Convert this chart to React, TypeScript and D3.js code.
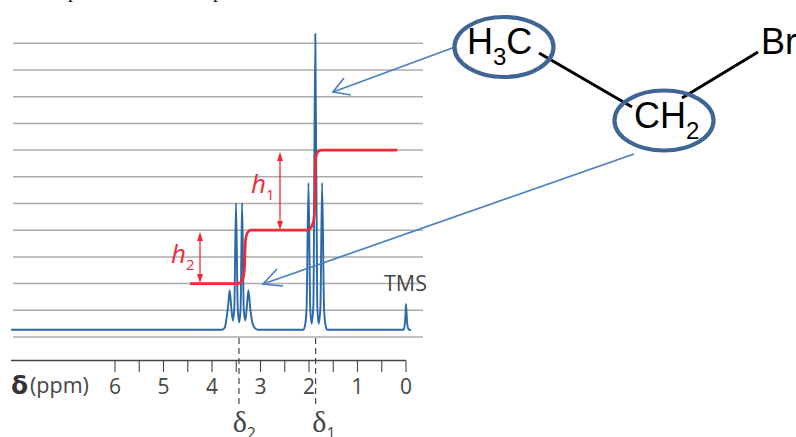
import React from "react";
import { curveMonotoneX, line, range, scaleLinear } from "d3";

////
// spectrum: [ppm] and [grid units]
const spectrumPpm = [
  8.14, 3.8, 3.74, 3.7, 3.66, 3.635, 3.6, 3.57, 3.54, 3.505, 3.47, 3.44, 3.41, 3.38, 3.345, 3.315, 3.285,
  3.25, 3.21, 3.17, 3.12, 3.05, 2.12, 2.08, 2.05, 2.01, 1.975, 1.945, 1.91, 1.87, 1.83, 1.8, 1.765, 1.73,
  1.69, 1.66, 1.62, 0.05, 0.03, 0.01, 0, -0.02, -0.05, -0.1,
];
const spectrumValue = [
  0.27, 0.27, 0.34, 0.7, 1.3, 1.75, 1.05, 0.62, 1.1, 5.02, 1.1, 0.55, 1.1, 5.02, 1.05, 0.62, 1.05,
  1.75, 1.05, 0.55, 0.34, 0.27, 0.27, 0.45, 1.1, 5.77, 1.1, 0.5, 1.2, 11.35, 1.2, 0.5, 1.1, 5.77,
  1.1, 0.45, 0.27, 0.27, 0.4, 0.85, 1.24, 0.6, 0.3, 0.25,
];
// integral trace
const integralPpm = [4.45, 3.5, 3.42, 3.36, 3.33, 3.31, 3.27, 3.2, 2.03, 1.96, 1.9, 1.88, 1.87, 1.83, 1.75, 0.18];
const integralValue = [2, 2, 2.03, 2.2, 2.6, 3.6, 3.9, 4, 4, 4.1, 4.4, 5, 6.6, 6.9, 7, 7];
//
const gridLines = range(0, 12);
const axisTicks = range(0, 6.5, 0.5);
const axisLabels = ["0", "1", "2", "3", "4", "5", "6"];
const shifts = [
  { ppm: 3.45, label: "2", dx: -6 },
  { ppm: 1.87, label: "1", dx: -3 },
];

////
const WIDTH = 796;
const HEIGHT = 437;
const BLUE = "#2a68a8";
const ARROW = "#4a7fc0";
const RED = "#ee2a35";
const GREY = "#454545";
const RING = "#3f6593";
const SANS = "'Open Sans', sans-serif";
const ARIAL = "'Liberation Sans', Arial, sans-serif";
const SERIF = "'Liberation Serif', serif";

const x = scaleLinear().domain([0, 6]).range([406, 115]);
const y = scaleLinear().domain([0, 11]).range([337, 43.3]);

const trace = (ppm: number[], values: number[]) =>
  line<number>()
    .x((d) => x(d))
    .y((_, i) => y(values[i]))
    .curve(curveMonotoneX)(ppm);

// open arrow with its two barbs
const BlueArrow = ({ from, tip, barbs }: { from: number[]; tip: number[]; barbs: number[][] }) => (
  <g stroke={ARROW} strokeWidth={1.7} fill="none">
    <line x1={from[0]} y1={from[1]} x2={tip[0]} y2={tip[1]} />
    <polyline points={`${barbs[0]} ${tip} ${barbs[1]}`} />
  </g>
);

// double headed red measure
const Measure = ({ at, top, bottom }: { at: number; top: number; bottom: number }) => (
  <g fill={RED}>
    <line x1={at} x2={at} y1={top + 4} y2={bottom - 4} stroke={RED} strokeWidth={1.3} />
    <path d={`M${at},${top} l-3,9 h6 z`} />
    <path d={`M${at},${bottom} l-3,-9 h6 z`} />
  </g>
);

export default function App() {
  return (
    <svg
      width={WIDTH}
      height={HEIGHT}
      viewBox={`0 0 ${WIDTH} ${HEIGHT}`}
      style={{ position: "absolute", left: 0, top: 0, background: "#fff" }}
    >
      {/* cut off line of text above the figure */}
      <g fontFamily={SERIF} fontSize={20} fill="#111">
        <text x={68} y={-3}>p</text>
        <text x={213} y={-3}>p</text>
      </g>

      {/* grid */}
      {gridLines.map((g) => (
        <line key={g} x1={13} x2={423} y1={y(g)} y2={y(g)} stroke="#adadad" strokeWidth={1.5} />
      ))}

      {/* dashed guides */}
      {shifts.map((s) => (
        <line
          key={s.label}
          x1={x(s.ppm) + 0.3}
          x2={x(s.ppm) + 0.3}
          y1={338}
          y2={405}
          stroke={GREY}
          strokeWidth={1.2}
          strokeDasharray="6 4"
        />
      ))}

      {/* spectrum */}
      <path d={trace(spectrumPpm, spectrumValue) ?? ""} fill="none" stroke={BLUE} strokeWidth={1.9} />
      <path d={trace(integralPpm, integralValue) ?? ""} fill="none" stroke={RED} strokeWidth={2.7} />

      {/* axis */}
      <line x1={11} x2={x(0)} y1={360.5} y2={360.5} stroke={GREY} strokeWidth={1.3} />
      {axisTicks.map((t) => (
        <line key={t} x1={x(t)} x2={x(t)} y1={360.5} y2={372} stroke={GREY} strokeWidth={1.1} />
      ))}
      {axisLabels.map((d) => (
        <text key={d} x={x(+d)} y={394} textAnchor="middle" fontFamily={SANS} fontSize={21} fill={GREY}>
          {d}
        </text>
      ))}
      <text x={11} y={394} fontFamily="'DejaVu Sans', sans-serif" fontWeight="bold" fontSize={25} fill="#333">
        δ
      </text>
      <text x={30} y={393} fontFamily={SANS} fontSize={21.5} fill={GREY}>
        (ppm)
      </text>

      {/* delta labels */}
      {shifts.map((s) => (
        <text key={s.label} x={x(s.ppm) + s.dx} y={432} fontFamily={SERIF} fontSize={30} fill={GREY}>
          δ
          <tspan fontFamily={SANS} fontSize={16} dy={7}>{s.label}</tspan>
        </text>
      ))}

      <text x={384} y={291} fontFamily={SANS} fontSize={21.5} fill={GREY}>TMS</text>

      {/* h1, h2 */}
      <Measure at={280} top={152} bottom={230} />
      <Measure at={200} top={232} bottom={283} />
      <text x={251} y={193} fontFamily={SANS} fontStyle="italic" fontWeight={500} fontSize={26} fill={RED}>
        h<tspan fontStyle="normal" fontSize={15} dy={7}>1</tspan>
      </text>
      <text x={171} y={263} fontFamily={SANS} fontStyle="italic" fontWeight={500} fontSize={26} fill={RED}>
        h<tspan fontStyle="normal" fontSize={15} dy={7}>2</tspan>
      </text>

      {/* pointers */}
      <BlueArrow from={[455, 47]} tip={[333, 92]} barbs={[[344, 78], [351, 95]]} />
      <BlueArrow from={[634, 154]} tip={[263, 284]} barbs={[[277, 269], [283, 286]]} />

      {/* molecule */}
      <g stroke="#000" strokeWidth={3}>
        <line x1={539} y1={53} x2={632} y2={107} />
        <line x1={682} y1={98} x2={758} y2={52} />
      </g>
      <g fill="none" stroke={RING} strokeWidth={4.2}>
        <ellipse cx={504} cy={47} rx={49.5} ry={30} />
        <ellipse cx={664} cy={120.5} rx={49.5} ry={30} />
      </g>
      <g fontFamily={ARIAL} fontSize={36} fill="#000">
        <text x={467} y={54}>
          H<tspan fontSize={24} dy={11}>3</tspan>
          <tspan dy={-11}>C</tspan>
        </text>
        <text x={634} y={128}>
          CH<tspan fontSize={24} dy={11}>2</tspan>
        </text>
        <text x={761} y={54}>Br</text>
      </g>
    </svg>
  );
}
